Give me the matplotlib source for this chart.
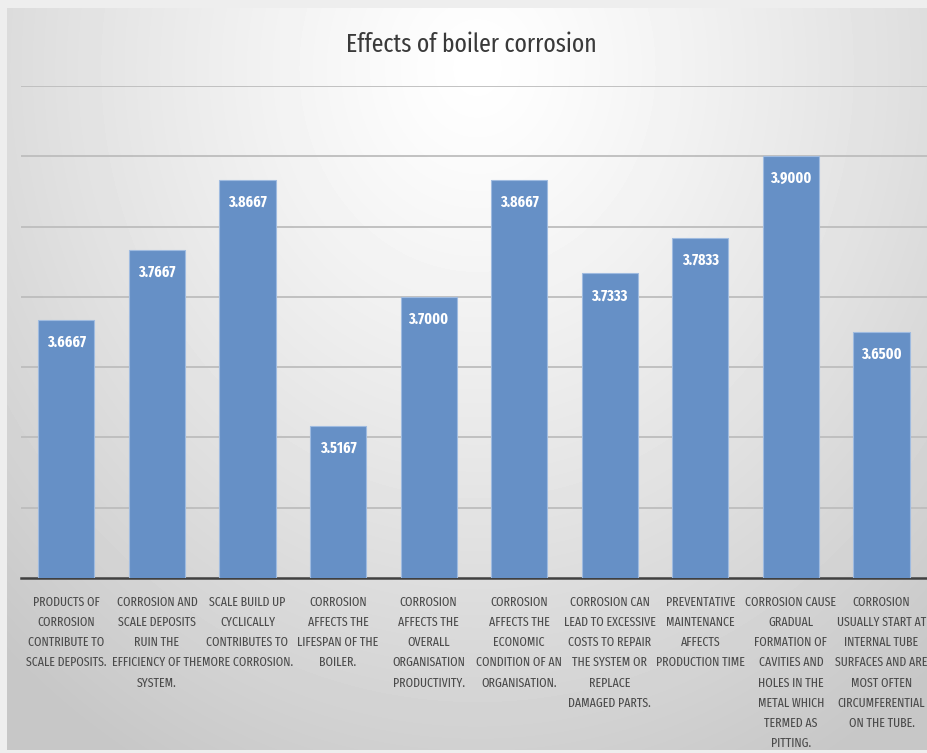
import numpy as np
import matplotlib.pyplot as plt
from matplotlib import font_manager

categories = [
    "PRODUCTS OF\nCORROSION\nCONTRIBUTE TO\nSCALE DEPOSITS.",
    "CORROSION AND\nSCALE DEPOSITS\nRUIN THE\nEFFICIENCY OF THE\nSYSTEM.",
    "SCALE BUILD UP\nCYCLICALLY\nCONTRIBUTES TO\nMORE CORROSION.",
    "CORROSION\nAFFECTS THE\nLIFESPAN OF THE\nBOILER.",
    "CORROSION\nAFFECTS THE\nOVERALL\nORGANISATION\nPRODUCTIVITY.",
    "CORROSION\nAFFECTS THE\nECONOMIC\nCONDITION OF AN\nORGANISATION.",
    "CORROSION CAN\nLEAD TO EXCESSIVE\nCOSTS TO REPAIR\nTHE SYSTEM OR\nREPLACE\nDAMAGED PARTS.",
    "PREVENTATIVE\nMAINTENANCE\nAFFECTS\nPRODUCTION TIME",
    "CORROSION CAUSE\nGRADUAL\nFORMATION OF\nCAVITIES AND\nHOLES IN THE\nMETAL WHICH\nTERMED AS\nPITTING.",
    "CORROSION\nUSUALLY START AT\nINTERNAL TUBE\nSURFACES AND ARE\nMOST OFTEN\nCIRCUMFERENTIAL\nON THE TUBE.",
]
values = [3.6667, 3.7667, 3.8667, 3.5167, 3.7000, 3.8667, 3.7333, 3.7833, 3.9000, 3.6500]
grid_levels = [3.4, 3.5, 3.6, 3.7, 3.8, 3.9, 4.0]


def pick_font(prefs):
    have = set(f.name for f in font_manager.fontManager.ttflist)
    for p in prefs:
        if p in have:
            return p
    return 'DejaVu Sans'


narrow = pick_font(['Fira Sans Extra Condensed', 'Roboto Condensed', 'Archivo Narrow',
                    'Asap Condensed', 'Liberation Sans Narrow'])
plt.rcParams['font.family'] = [narrow, 'DejaVu Sans']

fig = plt.figure(figsize=(9.27, 7.53), dpi=100)

# radial grey background inside a thin light frame
bg = fig.add_axes([7 / 927, 3 / 753, 920 / 927, 742 / 753], zorder=0)
yy, xx = np.mgrid[0:742, 0:920]
r = np.sqrt(((xx - 470) / 560.0) ** 2 + ((yy - 60) / 640.0) ** 2)
shade = np.clip(1.0 - 0.17 * r ** 1.2, 0.78, 1.0)
bg.imshow(shade, cmap='gray', vmin=0, vmax=1, aspect='auto')
bg.axis('off')
fig.patch.set_facecolor('#eeeeee')

ax = fig.add_axes([0.0227, 0.2324, 0.977, 0.6534], zorder=1)
ax.patch.set_alpha(0)
x = np.arange(len(values))
bars = ax.bar(x, values, width=0.62, bottom=0, color='#6690c6',
              edgecolor='#9fbbe0', linewidth=0.8, zorder=3)
ax.set_ylim(3.3, 4.0)
ax.set_xlim(-0.5, len(values) - 0.5)
for g in grid_levels:
    ax.axhline(g, color='#bdbdbd', linewidth=1.3, zorder=1)

for xi, v in zip(x, values):
    ax.annotate(f"{v:.4f}", (xi, v), xytext=(0, -16), textcoords='offset points',
                ha='center', va='center', color='white', fontsize=11,
                fontweight='bold', zorder=4)

for s in ['top', 'left', 'right']:
    ax.spines[s].set_visible(False)
ax.spines['bottom'].set_color('#404040')
ax.spines['bottom'].set_linewidth(1.8)
ax.set_yticks([])
ax.set_xticks(x)
ax.set_xticklabels(categories, fontsize=9.3, color='#4a4a4a', linespacing=1.78, va='top')
ax.tick_params(axis='x', length=0, pad=13)

fig.text(0.508, 0.94, "Effects of boiler corrosion", ha='center', va='center',
         fontsize=18.5, color='#3a3a3a')

fig.savefig('out.png', dpi=100, facecolor=fig.get_facecolor())
